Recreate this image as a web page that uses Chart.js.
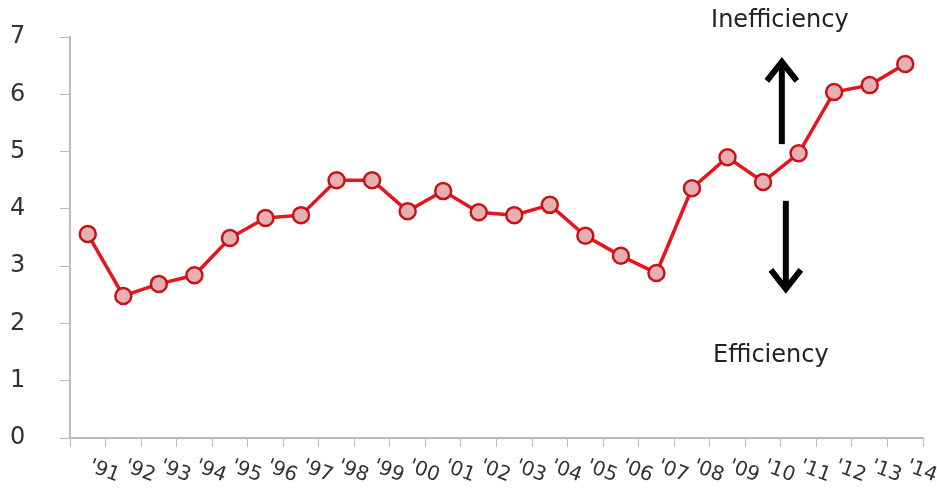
<!DOCTYPE html>
<html>
<head>
<meta charset="utf-8">
<script src="https://cdn.jsdelivr.net/npm/chart.js@4"></script>
<style>
  html, body { margin: 0; padding: 0; background: #fff; }
  #wrap { width: 937px; height: 490px; }
</style>
</head>
<body>
<div id="wrap"><canvas id="chart"></canvas></div>
<script>
const years = ["'91", "'92", "'93", "'94", "'95", "'96", "'97", "'98", "'99", "'00", "'01", "'02",
    "'03", "'04", "'05", "'06", "'07", "'08", "'09", "'10", "'11", "'12", "'13", "'14"];
const values = [3.56, 2.48, 2.69, 2.84, 3.49, 3.84, 3.89, 4.50, 4.50, 3.96, 4.31, 3.94,
    3.89, 4.07, 3.53, 3.18, 2.88, 4.36, 4.90, 4.47, 4.97, 6.04, 6.16, 6.53];
const yTicks = [0, 1, 2, 3, 4, 5, 6, 7];

const FONT = 'Verdana, "DejaVu Sans", sans-serif';

// slanted year labels + arrows and captions
const extras = {
    id: 'extras',
    afterDraw(chart) {
        const ctx = chart.ctx;
        const x = chart.scales.x;
        const y = chart.scales.y;
        ctx.save();
        ctx.fillStyle = '#333';
        ctx.font = '20px ' + FONT;
        ctx.textBaseline = 'middle';
        ctx.textAlign = 'left';
        years.forEach(function (lab, i) {
            const px = x.getPixelForValue(i) + 2;
            ctx.save();
            ctx.translate(px, y.bottom + 28);
            ctx.rotate(0.35);
            ctx.fillText(lab, 0, 0);
            ctx.restore();
        });

        // captions
        const mid = (x.getPixelForValue(19) + x.getPixelForValue(20)) / 2;
        ctx.fillStyle = '#222';
        ctx.font = '24px ' + FONT;
        ctx.textAlign = 'center';
        ctx.fillText('Inefficiency', mid - 1, y.getPixelForValue(7.28));
        ctx.fillText('Efficiency', mid - 10, y.getPixelForValue(1.43));

        // arrows
        ctx.strokeStyle = '#000';
        ctx.lineWidth = 6;
        ctx.lineCap = 'butt';
        const up = mid + 1;
        const uTop = y.getPixelForValue(6.62), uBot = y.getPixelForValue(5.13);
        ctx.beginPath();
        ctx.moveTo(up, uBot); ctx.lineTo(up, uTop + 4);
        ctx.stroke();
        ctx.beginPath();
        ctx.moveTo(up - 15, uTop + 22); ctx.lineTo(up, uTop + 3); ctx.lineTo(up + 15, uTop + 22);
        ctx.stroke();
        const dn = mid + 5;
        const dTop = y.getPixelForValue(4.14), dBot = y.getPixelForValue(2.55);
        ctx.beginPath();
        ctx.moveTo(dn, dTop); ctx.lineTo(dn, dBot - 4);
        ctx.stroke();
        ctx.beginPath();
        ctx.moveTo(dn - 15, dBot - 22); ctx.lineTo(dn, dBot - 3); ctx.lineTo(dn + 15, dBot - 22);
        ctx.stroke();
        ctx.restore();
    }
};

new Chart(document.getElementById('chart'), {
    type: 'line',
    data: {
        labels: years,
        datasets: [{
            data: values,
            borderColor: '#e8141c',
            borderWidth: 3.5,
            pointRadius: 8,
            pointBorderWidth: 2.5,
            pointBackgroundColor: '#e6b0b0',
            pointBorderColor: '#c8121a',
            tension: 0
        }]
    },
    options: {
        responsive: true,
        maintainAspectRatio: false,
        animation: false,
        layout: { padding: { top: 37, right: 14, left: 10, bottom: 0 } },
        plugins: { legend: { display: false }, tooltip: { enabled: false } },
        scales: {
            x: {
                offset: true,
                grid: { offset: true, drawOnChartArea: false, color: '#bbb', tickLength: 9 },
                border: { color: '#bbb', width: 2 },
                ticks: { display: false },
                afterFit(scale) { scale.height = 52; }
            },
            y: {
                min: 0,
                max: 7,
                afterBuildTicks(scale) { scale.ticks = yTicks.map(v => ({ value: v })); },
                grid: { drawOnChartArea: false, color: '#bbb', tickLength: 10 },
                border: { color: '#bbb', width: 2 },
                ticks: { color: '#333', font: { family: FONT, size: 24 }, padding: 4, crossAlign: 'far' },
                afterFit(scale) { scale.width = 60; }
            }
        }
    },
    plugins: [extras]
});
</script>
</body>
</html>
